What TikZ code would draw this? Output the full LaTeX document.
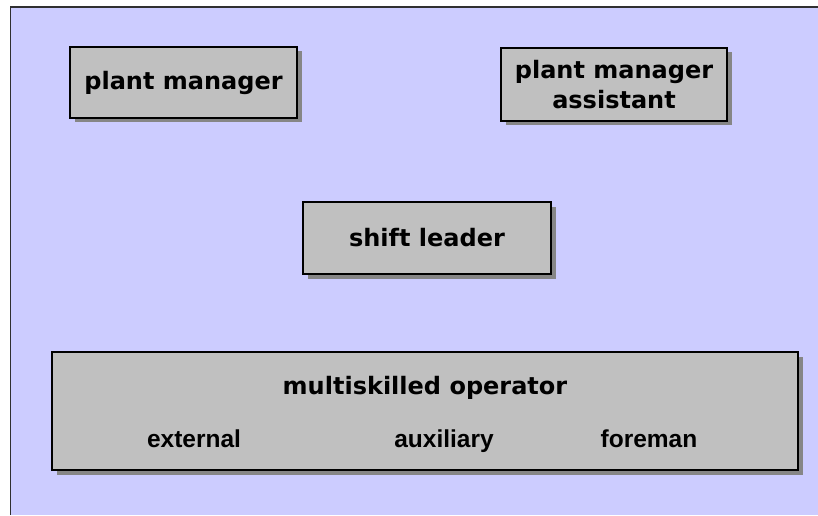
\documentclass[tikz,border=0pt]{standalone}
\usepackage{fontspec}
\setmainfont{DejaVu Sans}
\newfontfamily\narrowfont{Liberation Sans}
\usetikzlibrary{shadows}
\definecolor{bglav}{HTML}{CCCCFF}
\definecolor{boxgray}{HTML}{C0C0C0}
\definecolor{shadowgray}{HTML}{868686}
\definecolor{framedark}{HTML}{303030}
\tikzset{
  orgbox/.style={draw=black, line width=1.6pt, fill=boxgray, inner sep=0pt,
    general shadow={fill=shadowgray, shadow xshift=4.5pt, shadow yshift=-4.5pt},
    font=\bfseries\fontsize{24}{30}\selectfont, align=center},
  subtext/.style={inner sep=0pt, anchor=base, font=\narrowfont\bfseries\fontsize{24.5}{28}\selectfont},
}
\begin{document}
\begin{tikzpicture}[x=1pt,y=1pt]
\useasboundingbox (0,0) rectangle (818,515);
\fill[white] (0,0) rectangle (818,515);
\fill[bglav] (10.5,0) rectangle (818,508);
\draw[framedark, line width=1.8pt] (10.5,0) -- (10.5,508) -- (818,508);
% boxes
\node[orgbox, minimum width=227pt, minimum height=71pt] (pm) at (183.5,432.5) {plant manager};
\node[orgbox, minimum width=226pt, minimum height=73pt] (pma) at (614,430.5) {plant manager\\assistant};
\node[orgbox, minimum width=248pt, minimum height=72pt] (sl) at (427,277) {shift leader};
\node[orgbox, minimum width=746pt, minimum height=118pt] (mo) at (425,104) {};
\node[inner sep=0pt, anchor=base, font=\bfseries\fontsize{24}{28}\selectfont] (mot) at (425,121) {multiskilled operator};
\node[subtext] (ext) at (194,68) {external};
\node[subtext] (aux) at (444,68) {auxiliary};
\node[subtext] (for) at (649,68) {foreman};
\end{tikzpicture}
\end{document}
